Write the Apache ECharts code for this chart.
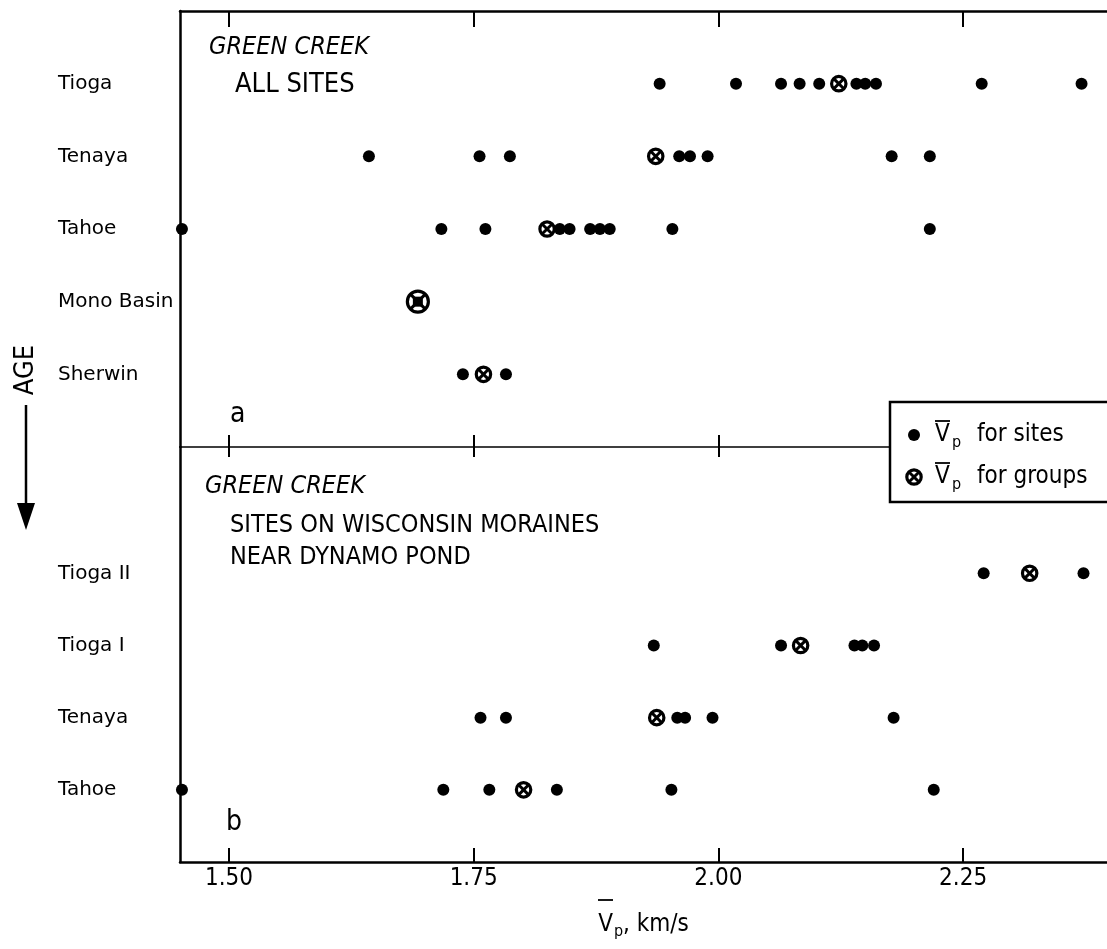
<!DOCTYPE html>
<html>
<head>
<meta charset="utf-8">
<script src="https://cdn.jsdelivr.net/npm/echarts@6/dist/echarts.min.js"></script>
<style>
html,body{margin:0;padding:0;background:#fff;}
#chart{width:1107px;height:949px;}
</style>
</head>
<body>
<div id="chart"></div>
<script>
// ---------- data ----------
const xTicks = [1.50, 1.75, 2.00, 2.25];
const topRows = ['Tioga', 'Tenaya', 'Tahoe', 'Mono Basin', 'Sherwin'];
const bottomRows = ['Tioga II', 'Tioga I', 'Tenaya', 'Tahoe'];

// panel a: all sites (km/s)
const aTiogaSites   = [1.940, 2.018, 2.064, 2.083, 2.103, 2.141, 2.150, 2.161, 2.269, 2.371];
const aTiogaGroup   = [2.123];
const aTenayaSites  = [1.643, 1.756, 1.787, 1.960, 1.971, 1.989, 2.177, 2.216];
const aTenayaGroup  = [1.936];
const aTahoeSites   = [1.452, 1.717, 1.762, 1.838, 1.848, 1.869, 1.879, 1.889, 1.953, 2.216];
const aTahoeGroup   = [1.825];
const aMonoBasinSiteAndGroup = [1.693];
const aSherwinSites = [1.739, 1.783];
const aSherwinGroup = [1.760];

// panel b: sites on Wisconsin moraines near Dynamo Pond
const bTioga2Sites  = [2.271, 2.373];
const bTioga2Group  = [2.318];
const bTioga1Sites  = [1.934, 2.064, 2.139, 2.147, 2.159];
const bTioga1Group  = [2.084];
const bTenayaSites  = [1.757, 1.783, 1.958, 1.966, 1.994, 2.179];
const bTenayaGroup  = [1.937];
const bTahoeSites   = [1.452, 1.719, 1.766, 1.835, 1.952, 2.220];
const bTahoeGroup   = [1.801];

// ---------- helpers ----------
function rows(list) { // list of [values, rowIndex]
  const out = [];
  list.forEach(([vals, r]) => vals.forEach(v => out.push([v, r])));
  return out;
}
const aSites = rows([[aTiogaSites,0],[aTenayaSites,1],[aTahoeSites,2],[aSherwinSites,4]]);
const aGroups = rows([[aTiogaGroup,0],[aTenayaGroup,1],[aTahoeGroup,2],[aSherwinGroup,4]]);
const aCombined = rows([[aMonoBasinSiteAndGroup,3]]);
const bSites = rows([[bTioga2Sites,0],[bTioga1Sites,1],[bTenayaSites,2],[bTahoeSites,3]]);
const bGroups = rows([[bTioga2Group,0],[bTioga1Group,1],[bTenayaGroup,2],[bTahoeGroup,3]]);

const FONT = "'DejaVu Sans', sans-serif";
const COND = "'DejaVu Sans Condensed', 'DejaVu Sans', sans-serif";
const BLACK = '#000';

function groupShape(cx, cy, r, d) {
  r = r || 7.2; d = d || 4.8;
  return [
    {type:'circle', shape:{cx:cx, cy:cy, r:r}, style:{fill:'#fff', stroke:BLACK, lineWidth:3.2}},
    {type:'line', shape:{x1:cx-d, y1:cy-d, x2:cx+d, y2:cy+d}, style:{stroke:BLACK, lineWidth:3}},
    {type:'line', shape:{x1:cx-d, y1:cy+d, x2:cx+d, y2:cy-d}, style:{stroke:BLACK, lineWidth:3}}
  ];
}
function renderGroup(params, api) {
  const p = api.coord([api.value(0), api.value(1)]);
  return {type:'group', children: groupShape(p[0], p[1])};
}
function renderCombined(params, api) {
  const p = api.coord([api.value(0), api.value(1)]);
  const ch = groupShape(p[0], p[1], 10.5, 7);
  ch.push({type:'rect', shape:{x:p[0]-5, y:p[1]-5, width:10, height:10}, style:{fill:BLACK}});
  return {type:'group', children: ch};
}

const XMIN = 1.45, XMAX = 2.397;
function xAxisCfg(grid, pos, lineW, showLine, tickLen, withLabels) {
  const cfg = {
    gridIndex: grid, type: 'value', position: pos, min: XMIN, max: XMAX,
    axisLine: {show: showLine, onZero: false, lineStyle: {color: BLACK, width: lineW}},
    axisTick: {show: true, inside: true, length: tickLen, customValues: xTicks, lineStyle: {color: BLACK, width: 2}},
    axisLabel: {show: false},
    splitLine: {show: false}
  };
  if (withLabels) {
    cfg.axisLabel = {
      show: true, customValues: xTicks, margin: 5,
      formatter: v => v.toFixed(2),
      fontSize: 24, fontFamily: COND, color: BLACK
    };
    cfg.name = '{v|V}{s|p}{t|, km/s}';
    cfg.nameLocation = 'middle';
    cfg.nameGap = 48;
    cfg.nameTextStyle = {
      color: BLACK,
      rich: {
        v: {fontSize: 24, fontFamily: COND, color: BLACK},
        s: {fontSize: 16, fontFamily: COND, color: BLACK, padding: [14, 0, 0, 1]},
        t: {fontSize: 24, fontFamily: COND, color: BLACK}
      }
    };
  }
  return cfg;
}
function yAxisCfg(grid, min, max, names) {
  return {
    gridIndex: grid, type: 'value', inverse: true, min: min, max: max,
    axisLine: {show: true, onZero: false, lineStyle: {color: BLACK, width: 2.5}},
    axisTick: {show: false},
    splitLine: {show: false},
    axisLabel: {
      customValues: names.map((n, i) => i),
      formatter: v => names[Math.round(v)] || '',
      align: 'left', margin: 122,
      fontSize: 20, fontFamily: FONT, color: BLACK
    }
  };
}

function txt(x, y, text, size, opts) {
  opts = opts || {};
  return {
    type: 'text', x: x, y: y, z: 50, rotation: opts.rotation || 0,
    style: {
      text: text, fill: BLACK,
      font: (opts.italic ? 'italic ' : '') + size + 'px ' + (opts.family || COND),
      align: opts.align || 'left', verticalAlign: 'middle'
    }
  };
}
function hline(x1, x2, y, w) {
  return {type:'line', z: 120, shape:{x1:x1, y1:y, x2:x2, y2:y}, style:{stroke:BLACK, lineWidth:w || 1.8}};
}

const legendItems = [];
legendItems.push({type:'rect', z:100, shape:{x:890, y:402, width:260, height:100}, style:{fill:'#fff', stroke:BLACK, lineWidth:2.5}});
legendItems.push({type:'circle', z:120, shape:{cx:914, cy:435, r:6}, style:{fill:BLACK}});
groupShape(914, 477).forEach(s => { s.z = 120; legendItems.push(s); });
[[435, 'for sites'], [477, 'for groups']].forEach(([y, t]) => {
  const a = txt(935, y, 'V', 24); a.z = 120; legendItems.push(a);
  const b = txt(952, y + 8, 'p', 16); b.z = 120; legendItems.push(b);
  const c = txt(977, y, t, 24); c.z = 120; legendItems.push(c);
  legendItems.push(hline(935, 950, y - 14));
});

const chart = echarts.init(document.getElementById('chart'), null, {renderer: 'canvas'});
chart.setOption({
  backgroundColor: '#fff',
  animation: false,
  grid: [
    {left: 180, right: 0, top: 11, height: 436, containLabel: false, outerBoundsMode: 'none'},
    {left: 180, right: 0, top: 447, height: 415, containLabel: false, outerBoundsMode: 'none'}
  ],
  xAxis: [
    xAxisCfg(0, 'top', 2.5, true, 16, false),
    xAxisCfg(0, 'bottom', 1.6, true, 12, false),
    xAxisCfg(1, 'top', 1.6, false, 10, false),
    xAxisCfg(1, 'bottom', 2.5, true, 14, true)
  ],
  yAxis: [
    yAxisCfg(0, -1, 5, topRows),
    yAxisCfg(1, -1.75, 4, bottomRows)
  ],
  series: [
    {type:'scatter', name:'Vp for sites', xAxisIndex:0, yAxisIndex:0, data:aSites, symbol:'circle', symbolSize:12, itemStyle:{color:BLACK, opacity:1}, z:3, clip:false},
    {type:'custom', name:'Vp for groups', xAxisIndex:0, yAxisIndex:0, data:aGroups, renderItem:renderGroup, z:5, clip:false},
    {type:'custom', name:'Mono Basin', xAxisIndex:0, yAxisIndex:0, data:aCombined, renderItem:renderCombined, z:5, clip:false},
    {type:'scatter', name:'Vp for sites (b)', xAxisIndex:3, yAxisIndex:1, data:bSites, symbol:'circle', symbolSize:12, itemStyle:{color:BLACK, opacity:1}, z:3, clip:false},
    {type:'custom', name:'Vp for groups (b)', xAxisIndex:3, yAxisIndex:1, data:bGroups, renderItem:renderGroup, z:5, clip:false}
  ],
  graphic: [
    txt(209, 47, 'GREEN CREEK', 25, {italic: true}),
    txt(235, 85, 'ALL SITES', 27),
    txt(230, 415, 'a', 28),
    txt(205, 486, 'GREEN CREEK', 25, {italic: true}),
    txt(230, 525, 'SITES ON WISCONSIN MORAINES', 25),
    txt(230, 557, 'NEAR DYNAMO POND', 25),
    txt(226, 823, 'b', 28),
    txt(26, 370, 'AGE', 27, {rotation: Math.PI / 2, align: 'center'}),
    {type:'line', shape:{x1:26, y1:405, x2:26, y2:508}, style:{stroke:BLACK, lineWidth:2.5}},
    {type:'polygon', shape:{points:[[17,503],[35,503],[26,530]]}, style:{fill:BLACK}},
    hline(598, 613, 900)
  ].concat(legendItems)
});
</script>
</body>
</html>
